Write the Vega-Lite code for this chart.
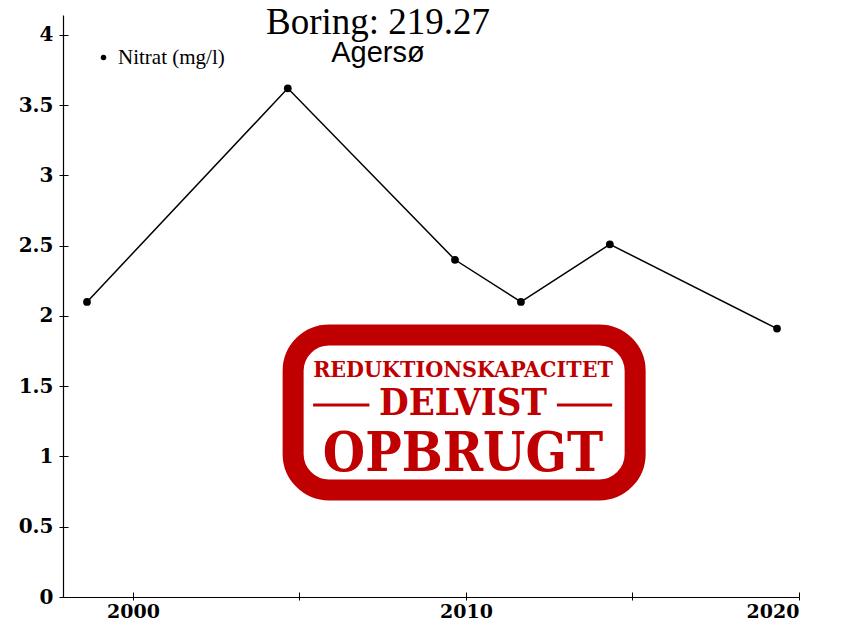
{
  "$schema": "https://vega.github.io/schema/vega-lite/v6.json",
  "autosize": "none",
  "width": 736,
  "height": 582,
  "padding": {"left": 63, "top": 15, "right": 47, "bottom": 27},
  "background": "white",
  "config": {
    "view": {"stroke": null},
    "axis": {"grid": false, "domainColor": "black", "tickColor": "black", "labelColor": "black", "domainWidth": 1.2, "tickWidth": 1}
  },
  "title": {
    "text": "Boring: 219.27",
    "subtitle": "Agersø",
    "anchor": "middle",
    "dx": -53,
    "offset": -54,
    "font": "Liberation Serif",
    "fontSize": 37,
    "fontWeight": "normal",
    "color": "black",
    "subtitleFont": "Liberation Sans",
    "subtitleFontSize": 29,
    "subtitleColor": "black",
    "subtitlePadding": -3
  },
  "resolve": {"axis": {"x": "independent", "y": "independent"}},
  "datasets": {
    "nitrat": [
      {"year": 1998.62, "value": 2.1, "serie": "Nitrat (mg/l)"},
      {"year": 2004.65, "value": 3.62, "serie": "Nitrat (mg/l)"},
      {"year": 2009.67, "value": 2.4, "serie": "Nitrat (mg/l)"},
      {"year": 2011.65, "value": 2.1, "serie": "Nitrat (mg/l)"},
      {"year": 2014.32, "value": 2.51, "serie": "Nitrat (mg/l)"},
      {"year": 2019.34, "value": 1.91, "serie": "Nitrat (mg/l)"}
    ],
    "stamp": [
      {"x1": 2004.81, "x2": 2015.08, "y1": 1.865, "y2": 0.762}
    ],
    "stamptext": [
      {"x": 2009.91, "y": 1.612, "label": "REDUKTIONSKAPACITET", "size": 23},
      {"x": 2009.91, "y": 1.376, "label": "DELVIST", "size": 38},
      {"x": 2009.91, "y": 1.012, "label": "OPBRUGT", "size": 54}
    ],
    "stamplines": [
      {"x1": 2005.41, "x2": 2007.1, "y": 1.366},
      {"x1": 2012.73, "x2": 2014.39, "y": 1.366}
    ]
  },
  "layer": [
    {
      "data": {"name": "nitrat"},
      "mark": {"type": "line", "color": "black", "strokeWidth": 1.5},
      "encoding": {
        "x": {
          "field": "year", "type": "quantitative",
          "scale": {"domain": [1997.9, 2020], "nice": false, "zero": false},
          "axis": {
            "title": null,
            "orient": "bottom",
            "values": [2000, 2005, 2010, 2015, 2020],
            "format": "d",
            "labelExpr": "datum.value % 10 == 0 ? datum.label : ''",
            "labelFont": "DejaVu Serif",
            "labelFontWeight": "bold",
            "labelFontSize": 19,
            "tickSize": 3,
            "labelPadding": 2
          }
        },
        "y": {
          "field": "value", "type": "quantitative",
          "scale": {"domain": [0, 4.142], "nice": false},
          "axis": {
            "title": null,
            "orient": "left",
            "values": [0, 0.5, 1, 1.5, 2, 2.5, 3, 3.5, 4],
            "format": "~f",
            "labelFont": "DejaVu Serif",
            "labelFontWeight": "bold",
            "labelFontSize": 20,
            "tickSize": 4,
            "labelPadding": 6
          }
        }
      }
    },
    {
      "data": {"name": "nitrat"},
      "mark": {"type": "point", "filled": true, "size": 60, "opacity": 1},
      "encoding": {
        "x": {
          "field": "year", "type": "quantitative",
          "scale": {"domain": [1997.9, 2020], "nice": false, "zero": false},
          "axis": {"title": null, "orient": "bottom", "values": [2000, 2005, 2010, 2015, 2020], "labels": false, "domain": false, "tickSize": -5}
        },
        "y": {
          "field": "value", "type": "quantitative",
          "scale": {"domain": [0, 4.142], "nice": false},
          "axis": {"title": null, "orient": "left", "values": [0, 0.5, 1, 1.5, 2, 2.5, 3, 3.5, 4], "labels": false, "domain": false, "tickSize": -5}
        },
        "color": {
          "field": "serie", "type": "nominal",
          "scale": {"range": ["black"]},
          "legend": {
            "title": null,
            "orient": "none",
            "legendX": 30,
            "legendY": 32,
            "symbolSize": 30,
            "symbolType": "circle",
            "labelFont": "Liberation Serif",
            "labelFontSize": 21,
            "labelColor": "black",
            "labelOffset": 4
          }
        }
      }
    },
    {
      "data": {"name": "stamp"},
      "mark": {"type": "rect", "fill": "white", "stroke": "#c00000", "strokeWidth": 21, "cornerRadius": 36},
      "encoding": {
        "x": {"field": "x1", "type": "quantitative", "axis": null},
        "x2": {"field": "x2"},
        "y": {"field": "y1", "type": "quantitative", "axis": null},
        "y2": {"field": "y2"}
      }
    },
    {
      "data": {"name": "stamplines"},
      "mark": {"type": "rule", "color": "#c00000", "strokeWidth": 3},
      "encoding": {
        "x": {"field": "x1", "type": "quantitative", "axis": null},
        "x2": {"field": "x2"},
        "y": {"field": "y", "type": "quantitative", "axis": null}
      }
    },
    {
      "data": {"name": "stamptext"},
      "mark": {"type": "text", "color": "#c00000", "font": "DejaVu Serif Condensed", "fontWeight": "bold", "baseline": "middle", "align": "center"},
      "encoding": {
        "x": {"field": "x", "type": "quantitative", "axis": null},
        "y": {"field": "y", "type": "quantitative", "axis": null},
        "text": {"field": "label"},
        "size": {"field": "size", "type": "quantitative", "scale": null}
      }
    }
  ]
}
